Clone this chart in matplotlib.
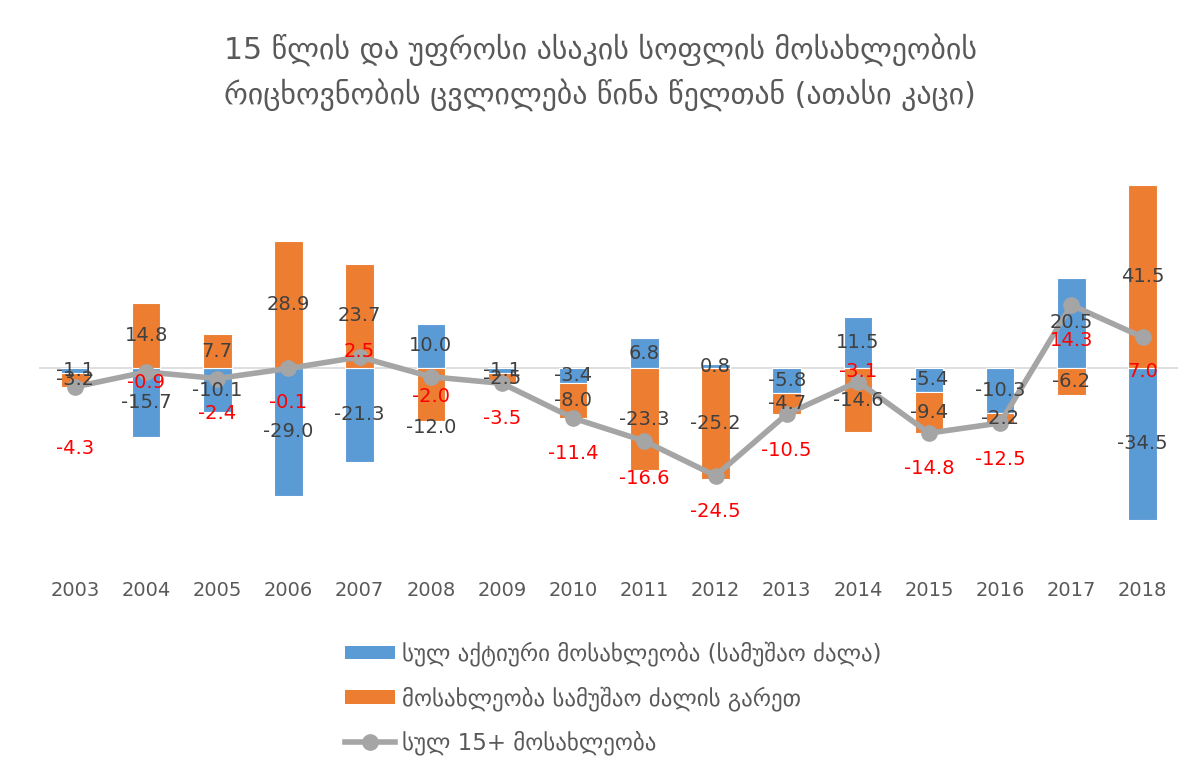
import matplotlib
matplotlib.use("Agg")
import matplotlib.pyplot as plt
from matplotlib.lines import Line2D
from matplotlib.patches import Patch
import numpy as np

years = ["2003", "2004", "2005", "2006", "2007", "2008", "2009", "2010",
         "2011", "2012", "2013", "2014", "2015", "2016", "2017", "2018"]
active = [-1.1, -15.7, -10.1, -29.0, -21.3, 10.0, -1.1, -3.4,
          6.8, 0.8, -5.8, 11.5, -5.4, -10.3, 20.5, -34.5]
outside = [-3.2, 14.8, 7.7, 28.9, 23.7, -12.0, -2.5, -8.0,
           -23.3, -25.2, -4.7, -14.6, -9.4, -2.2, -6.2, 41.5]
total = [-4.3, -0.9, -2.4, -0.1, 2.5, -2.0, -3.5, -11.4,
         -16.6, -24.5, -10.5, -3.1, -14.8, -12.5, 14.3, 7.0]

title = "15 წლის და უფროსი ასაკის სოფლის მოსახლეობის\nრიცხოვნობის ცვლილება წინა წელთან (ათასი კაცი)"
legend_labels = ["სულ აქტიური მოსახლეობა (სამუშაო ძალა)",
                 "მოსახლეობა სამუშაო ძალის გარეთ",
                 "სულ 15+ მოსახლეობა"]

# vertical offsets (pixels) of the red total labels relative to their point
total_label_dy = [-62, -11, -35, -34, 5, -20, -35, -35,
                  -37, -36, -36, 10, -35, -37, -35, -34]

BLUE = "#5B9BD5"
ORANGE = "#ED7D31"
GRAY = "#A5A5A5"
TXT = "#404040"

plt.rcParams["font.family"] = ["DejaVu Sans"]

fig = plt.figure(figsize=(12, 7.69), dpi=100)
ax = fig.add_axes([0.0328, 0.264, 0.949, 0.515])

x = np.arange(len(years))
act = np.array(active)
out = np.array(outside)

# stack like Excel: positives on positives, negatives on negatives
act_base = np.zeros_like(act)
out_base = np.where(np.sign(out) == np.sign(act), act, 0.0)

w = 0.4
ax.bar(x, act, w, bottom=act_base, color=BLUE, edgecolor="white", linewidth=0.8, zorder=2)
ax.bar(x, out, w, bottom=out_base, color=ORANGE, edgecolor="white", linewidth=0.8, zorder=2)
ax.axhline(0, color="#D9D9D9", linewidth=1.2, zorder=1)
ax.plot(x, total, color=GRAY, linewidth=4, marker="o", markersize=11, zorder=3)

for i in range(len(years)):
    ax.text(x[i], act_base[i] + act[i] / 2, f"{active[i]:.1f}", ha="center", va="center",
            fontsize=14, color=TXT, zorder=4)
    oy = out_base[i] + out[i] / 2
    if years[i] == "2008":
        oy = out_base[i] + out[i] - 1.5
    ax.text(x[i], oy, f"{outside[i]:.1f}", ha="center", va="center",
            fontsize=14, color=TXT, zorder=4)
    ax.annotate(f"{total[i]:.1f}", (x[i], total[i]), xytext=(0, total_label_dy[i]),
                textcoords="offset pixels", ha="center", va="center",
                fontsize=14, color="#FF0000", zorder=5)

ax.set_xlim(-0.5, len(years) - 0.5)
ax.set_ylim(-45, 45)
ax.set_xticks(x)
ax.set_xticklabels(years, fontsize=14, color="#595959")
ax.tick_params(axis="x", length=0, pad=11)
ax.set_yticks([])
for s in ax.spines.values():
    s.set_visible(False)

fig.text(0.5, 0.9057, title, ha="center", va="center", fontsize=21.5, color="#595959",
         linespacing=1.48)

handles = [Patch(facecolor=BLUE), Patch(facecolor=ORANGE),
           Line2D([], [], color=GRAY, linewidth=4, marker="o", markersize=11)]
fig.legend(handles, legend_labels, loc="upper left", bbox_to_anchor=(0.2875, 0.166),
           frameon=False, fontsize=16.5, handlelength=2.2, handleheight=0.55,
           handletextpad=0.3, labelspacing=0.87, borderpad=0, borderaxespad=0,
           labelcolor="#595959")

fig.savefig("out.png", dpi=100)
